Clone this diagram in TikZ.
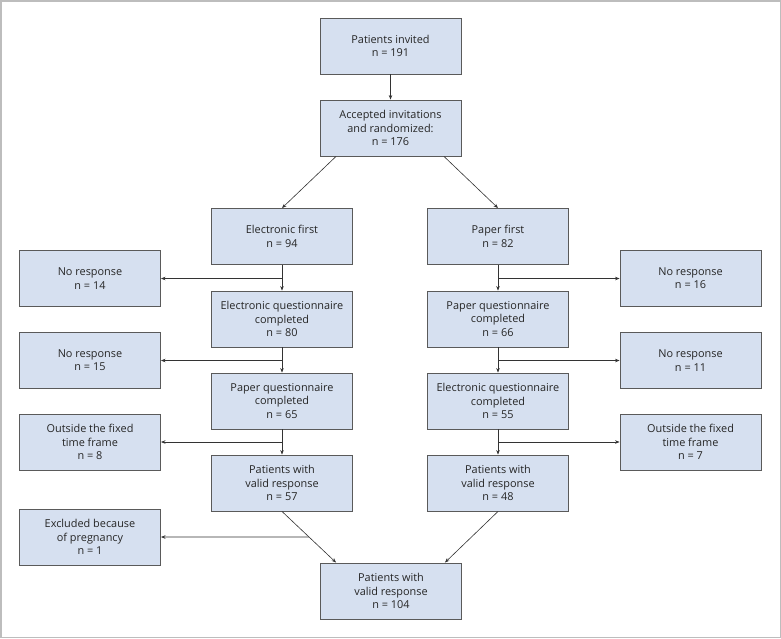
\documentclass[tikz,border=0pt]{standalone}
\usepackage{fontspec}
\setmainfont{Open Sans}
\usetikzlibrary{arrows.meta,calc}
\definecolor{boxfill}{HTML}{D6E0F0}
\definecolor{boxline}{HTML}{5A5A5A}
\definecolor{framegray}{HTML}{BDBDBD}
\tikzset{
  box/.style={draw=boxline, fill=boxfill, line width=0.9pt, minimum width=141pt, minimum height=56pt,
    inner sep=0pt, align=center, text=black!85, font=\fontsize{10.9}{13.3}\selectfont},
  arr/.style={draw=black!80, line width=0.6pt, -{Stealth[length=4.5pt,width=3.5pt]}},
  ln/.style={draw=black!80, line width=0.6pt}
}
\begin{document}
\begin{tikzpicture}[x=1pt,y=-1pt]
\useasboundingbox (0,0) rectangle (781,638);
\draw[framegray, line width=1.5pt] (0.75,0.75) rectangle (780.25,637.25);

\node[box] (inv) at (390.5,46) {Patients invited\\n = 191};
\node[box] (acc) at (390.5,128) {Accepted invitations\\and randomized:\\n = 176};

\node[box] (ef) at (282,236.5) {Electronic first\\n = 94};
\node[box] (eq) at (282,319) {Electronic questionnaire\\completed\\n = 80};
\node[box] (pq) at (282,401) {Paper questionnaire\\completed\\n = 65};
\node[box] (vl) at (282,483) {Patients with\\valid response\\n = 57};

\node[box] (pf) at (498,236.5) {Paper first\\n = 82};
\node[box] (pq2) at (498,319) {Paper questionnaire\\completed\\n = 66};
\node[box] (eq2) at (498,401) {Electronic questionnaire\\completed\\n = 55};
\node[box] (vr) at (498,483) {Patients with\\valid response\\n = 48};

\node[box] (nl1) at (90,278.5) {No response\\n = 14};
\node[box] (nl2) at (90,360.5) {No response\\n = 15};
\node[box] (ol) at (90,442) {Outside the fixed\\time frame\\n = 8};
\node[box] (ex) at (90,537) {Excluded because\\of pregnancy\\n = 1};

\node[box] (nr1) at (690.5,278.5) {No response\\n = 16};
\node[box] (nr2) at (690.5,360.5) {No response\\n = 11};
\node[box] (or) at (690.5,442) {Outside the fixed\\time frame\\n = 7};

\node[box] (fin) at (391,591) {Patients with\\valid response\\n = 104};

% main flow
\draw[arr] (inv) -- (acc);
\coordinate (accL) at ($(acc.south)+(-54.5,0)$);
\coordinate (accR) at ($(acc.south)+(53.5,0)$);
\draw[arr] (accL) -- (ef.north);
\draw[arr] (accR) -- (pf.north);
\draw[arr] (ef) -- (eq);
\draw[arr] (eq) -- (pq);
\draw[arr] (pq) -- (vl);
\draw[arr] (pf) -- (pq2);
\draw[arr] (pq2) -- (eq2);
\draw[arr] (eq2) -- (vr);

% side branches left
\coordinate (bl1) at (ef.south |- nl1);
\coordinate (bl2) at (eq.south |- nl2);
\coordinate (bl3) at (pq.south |- ol);
\draw[arr] (bl1) -- (nl1.east);
\draw[arr] (bl2) -- (nl2.east);
\draw[arr] (bl3) -- (ol.east);

% side branches right
\coordinate (br1) at (pf.south |- nr1);
\coordinate (br2) at (pq2.south |- nr2);
\coordinate (br3) at (eq2.south |- or);
\draw[arr] (br1) -- (nr1.west);
\draw[arr] (br2) -- (nr2.west);
\draw[arr] (br3) -- (or.west);

% to final
\coordinate (finL) at ($(fin.north west)+(16,0)$);
\coordinate (finR) at ($(fin.north east)+(-17,0)$);
\draw[arr] (vl.south) -- (finL);
\draw[arr] (vr.south) -- (finR);
\coordinate (exb) at ($(vl.south)!0.5!(finL)$);
\draw[arr] (exb) -- (ex.east);
\end{tikzpicture}
\end{document}
